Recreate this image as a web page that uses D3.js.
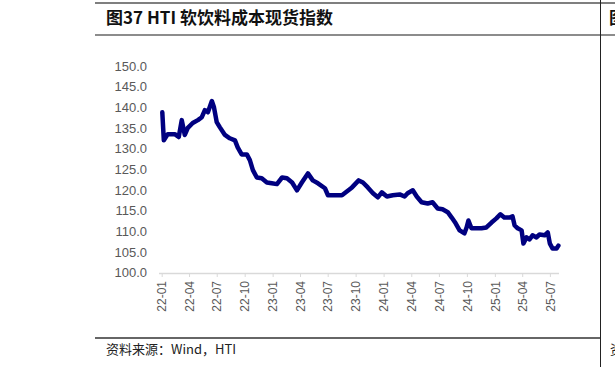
<!DOCTYPE html>
<html><head><meta charset="utf-8">
<script src="https://cdnjs.cloudflare.com/ajax/libs/d3/7.8.5/d3.min.js"></script>
<style>
html,body{margin:0;padding:0;background:#fff;}
svg{display:block;}
</style></head>
<body>
<svg id="chart" width="615" height="367"></svg>
<script>
const title = "图37 HTI 软饮料成本现货指数";
const source = "资料来源：Wind，HTI";

const dates = [
"2022-01-03","2022-01-08","2022-01-21","2022-02-13","2022-02-26","2022-03-08","2022-03-18","2022-03-28",
"2022-04-13","2022-04-30","2022-05-13","2022-05-23","2022-06-02","2022-06-15","2022-06-22","2022-07-01",
"2022-07-11","2022-07-28","2022-08-13","2022-08-30","2022-09-08","2022-09-21","2022-10-08","2022-10-18",
"2022-10-28","2022-11-10","2022-11-26","2022-12-13","2022-12-29","2023-01-15","2023-02-01","2023-02-17",
"2023-03-06","2023-03-22","2023-04-07","2023-04-27","2023-05-13","2023-05-30","2023-06-22","2023-07-02",
"2023-08-17","2023-09-19","2023-10-11","2023-10-25","2023-11-10","2023-11-27","2023-12-13","2023-12-26",
"2024-01-12","2024-01-31","2024-02-23","2024-03-10","2024-03-20","2024-04-06","2024-04-19","2024-05-05",
"2024-05-25","2024-06-10","2024-06-27","2024-07-13","2024-07-30","2024-08-12","2024-08-25","2024-09-07",
"2024-09-23","2024-09-30","2024-10-06","2024-10-16","2024-11-02","2024-11-18","2024-12-04","2024-12-21",
"2025-01-06","2025-01-19","2025-02-01","2025-02-18","2025-02-28","2025-03-07","2025-03-17","2025-03-30",
"2025-04-05","2025-04-15","2025-04-25","2025-05-05","2025-05-18","2025-05-28","2025-06-14","2025-06-24",
"2025-07-01","2025-07-10","2025-07-23","2025-07-29"
];
const values = [
138.8,132.0,133.5,133.5,132.8,136.9,133.3,135.0,
136.2,136.9,137.6,139.3,138.8,141.5,140.0,136.4,
135.2,133.3,132.5,132.0,130.3,128.6,128.6,127.2,
124.8,123.0,122.8,121.8,121.6,121.4,123.0,122.8,
121.8,119.9,121.8,124.0,122.3,121.6,120.4,118.7,
118.7,120.6,122.3,121.8,120.6,119.2,118.2,119.4,
118.4,118.7,118.9,118.4,119.2,119.9,118.4,117.0,
116.7,117.0,115.5,115.3,114.6,113.3,111.9,110.2,
109.5,110.9,112.6,110.7,110.7,110.7,110.9,112.1,
113.1,114.1,113.3,113.3,113.6,111.4,110.7,110.2,
107.0,108.5,108.0,109.0,108.5,109.2,109.0,109.7,
107.0,105.8,105.8,106.5
];
const yTicks = [100,105,110,115,120,125,130,135,140,145,150];
const xTickLabels = ["22-01","22-04","22-07","22-10","23-01","23-04","23-07","23-10","24-01","24-04","24-07","24-10","25-01","25-04","25-07"];

const parse = d3.timeParse("%Y-%m-%d");
const data = dates.map((d,i)=>({date:parse(d), value:values[i]}));
const svg = d3.select("#chart");

const x = d3.scaleTime().domain([parse("2022-01-01"), parse("2025-07-31")]).range([161.7, 559]);
const y = d3.scaleLinear().domain([100,150]).range([272.5, 66]);

// frame lines
svg.append("line").attr("x1",95).attr("x2",615).attr("y1",3).attr("y2",3).attr("stroke","#7f7f7f").attr("stroke-width",2);
svg.append("line").attr("x1",95).attr("x2",615).attr("y1",35).attr("y2",35).attr("stroke","#8c8c8c").attr("stroke-width",2);
svg.append("line").attr("x1",95).attr("x2",600).attr("y1",338).attr("y2",338).attr("stroke","#333").attr("stroke-width",1.5);
svg.append("line").attr("x1",600.5).attr("x2",600.5).attr("y1",0).attr("y2",367).attr("stroke","#222").attr("stroke-width",1);

svg.append("text").attr("x",106).attr("y",24).attr("font-family","'Noto Sans CJK SC', 'Liberation Sans', sans-serif")
  .attr("font-size",17).attr("font-weight","bold").attr("fill","#111").text(title);
svg.append("text").attr("x",609).attr("y",24).attr("font-family","'Noto Sans CJK SC', sans-serif")
  .attr("font-size",17).attr("font-weight","bold").attr("fill","#111").text("图");
svg.append("text").attr("x",106).attr("y",354).attr("font-family","'Noto Sans CJK SC', 'Liberation Sans', sans-serif")
  .attr("font-size",13).attr("fill","#222").text(source);
svg.append("text").attr("x",610).attr("y",354).attr("font-family","'Noto Sans CJK SC', sans-serif")
  .attr("font-size",13).attr("fill","#222").text("资");

// y axis
const yAxis = d3.axisLeft(y).tickValues(yTicks).tickFormat(d3.format(".1f")).tickSize(0).tickPadding(0);
const gy = svg.append("g").attr("transform","translate(147,0)").call(yAxis);
gy.select(".domain").remove();
gy.selectAll("text").attr("font-family","'Liberation Sans', Arial, sans-serif").attr("font-size",13).attr("fill","#595959");

// x axis
const xTickDates = xTickLabels.map(s=>parse("20"+s+"-01"));
const xAxis = d3.axisBottom(x).tickValues(xTickDates).tickFormat((d,i)=>xTickLabels[i]).tickSize(4).tickPadding(3).tickSizeOuter(0);
const gx = svg.append("g").attr("transform","translate(0,273)").call(xAxis);
gx.select(".domain").attr("stroke","#d9d9d9").attr("stroke-width",1.5).attr("d","M159,0.5H559");
gx.selectAll(".tick line").attr("stroke","#d9d9d9");
gx.selectAll("text").attr("font-family","'Liberation Sans', Arial, sans-serif").attr("font-size",12).attr("fill","#595959")
  .attr("transform","rotate(-90)").attr("text-anchor","end").attr("x",-8).attr("y",0).attr("dy","0.35em");

// line
const line = d3.line().x(d=>x(d.date)).y(d=>y(d.value)).curve(d3.curveLinear);
svg.append("path").datum(data).attr("d",line).attr("fill","none").attr("stroke","#000080")
  .attr("stroke-width",4.5).attr("stroke-linejoin","round").attr("stroke-linecap","round");
</script>
</body></html>
